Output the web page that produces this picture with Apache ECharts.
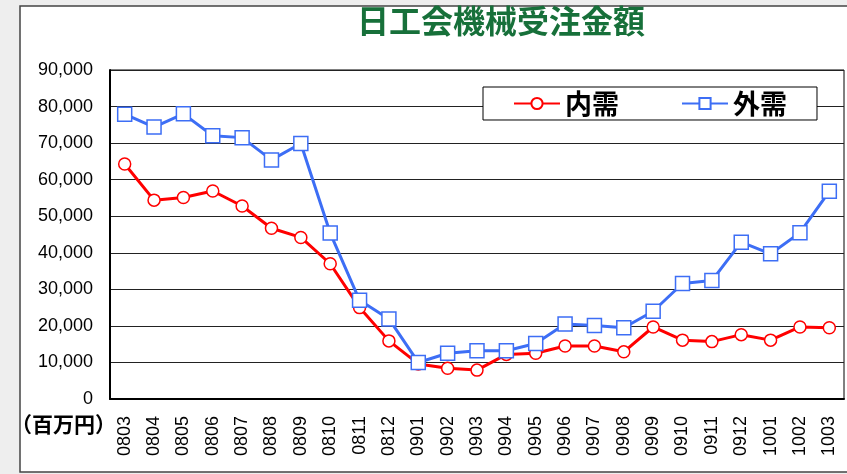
<!DOCTYPE html>
<html>
<head>
<meta charset="utf-8">
<script src="https://cdn.jsdelivr.net/npm/echarts@6/dist/echarts.min.js"></script>
<style>
  html, body { margin: 0; padding: 0; background: #eeeeee; }
  #chart { width: 847px; height: 474px; }
</style>
</head>
<body>
<div id="chart"></div>
<script>
// 月（年月 yymm）
const months = ["0803", "0804", "0805", "0806", "0807", "0808", "0809", "0810", "0811", "0812",
  "0901", "0902", "0903", "0904", "0905", "0906", "0907", "0908", "0909", "0910",
  "0911", "0912", "1001", "1002", "1003"];

// 内需（百万円）
const naiju = [64300, 54400, 55100, 56900, 52800, 46700, 44200, 37000, 25000, 15900,
  9600, 8400, 7900, 12200, 12500, 14500, 14500, 12900, 19700, 16100,
  15700, 17600, 16100, 19700, 19500];

// 外需（百万円）
const gaiju = [77900, 74400, 78000, 72000, 71500, 65400, 69900, 45400, 27000, 21900,
  10000, 12500, 13200, 13200, 15200, 20500, 20100, 19500, 24000, 31600,
  32400, 42900, 39700, 45500, 56800];

const yTicks = [0, 10000, 20000, 30000, 40000, 50000, 60000, 70000, 80000, 90000];

const jpFont = '"Noto Sans CJK JP", "Liberation Sans", sans-serif';
const numFont = '"Liberation Sans", Arial, sans-serif';

const chart = echarts.init(document.getElementById("chart"));

const option = {
  backgroundColor: "transparent",
  animation: false,
  graphic: [
    // 外枠
    {
      type: "rect",
      z: -100,
      shape: { x: 20, y: 6, width: 840, height: 466 },
      style: { fill: "#ffffff", stroke: "#444444", lineWidth: 1.5 },
    },
    // 単位
    {
      type: "text",
      z: 10,
      x: 11,
      y: 424,
      style: {
        text: "（百万円）",
        fill: "#000000",
        font: 'bold 21px "Noto Sans CJK JP", sans-serif',
        verticalAlign: "middle",
        align: "left",
      },
    },
  ],
  title: {
    text: "日工会機械受注金額",
    left: 352,
    top: 0,
    textStyle: {
      color: "#17703a",
      fontSize: 32,
      fontWeight: "bold",
      fontFamily: jpFont,
    },
  },
  legend: {
    left: 483,
    top: 87,
    padding: [3, 30, 3, 30],
    itemGap: 62,
    itemWidth: 46,
    itemHeight: 14,
    backgroundColor: "#ffffff",
    borderColor: "#000000",
    borderWidth: 1,
    textStyle: {
      color: "#000000",
      fontSize: 27,
      fontWeight: "bold",
      fontFamily: jpFont,
    },
    data: ["内需", "外需"],
  },
  grid: {
    left: 110,
    right: 3,
    top: 70,
    bottom: 75,
    show: true,
    borderColor: "#000000",
    borderWidth: 1,
  },
  xAxis: {
    type: "category",
    data: months,
    boundaryGap: true,
    axisLine: { lineStyle: { color: "#000000", width: 2 } },
    axisTick: { inside: true, length: 4, lineStyle: { color: "#000000" } },
    axisLabel: {
      rotate: 90,
      margin: 17,
      color: "#000000",
      fontSize: 18,
      fontFamily: numFont,
      interval: 0,
    },
  },
  yAxis: {
    type: "value",
    min: yTicks[0],
    max: yTicks[yTicks.length - 1],
    interval: yTicks[1] - yTicks[0],
    axisLine: { show: true, lineStyle: { color: "#000000", width: 2 } },
    axisTick: { show: false },
    splitLine: { lineStyle: { color: "#222222", width: 1 } },
    axisLabel: {
      margin: 17,
      color: "#000000",
      fontSize: 18,
      fontFamily: numFont,
      formatter: (v) => v.toLocaleString("en-US"),
    },
  },
  series: [
    {
      name: "内需",
      type: "line",
      data: naiju,
      symbol: "circle",
      symbolSize: 12,
      lineStyle: { color: "#ff0000", width: 3 },
      itemStyle: { color: "#ffffff", borderColor: "#ff0000", borderWidth: 1.5 },
    },
    {
      name: "外需",
      type: "line",
      data: gaiju,
      symbol: "rect",
      symbolSize: 14,
      lineStyle: { color: "#3d6ef5", width: 3 },
      itemStyle: { color: "#ffffff", borderColor: "#3d6ef5", borderWidth: 1.5 },
    },
  ],
};

chart.setOption(option);
</script>
</body>
</html>
